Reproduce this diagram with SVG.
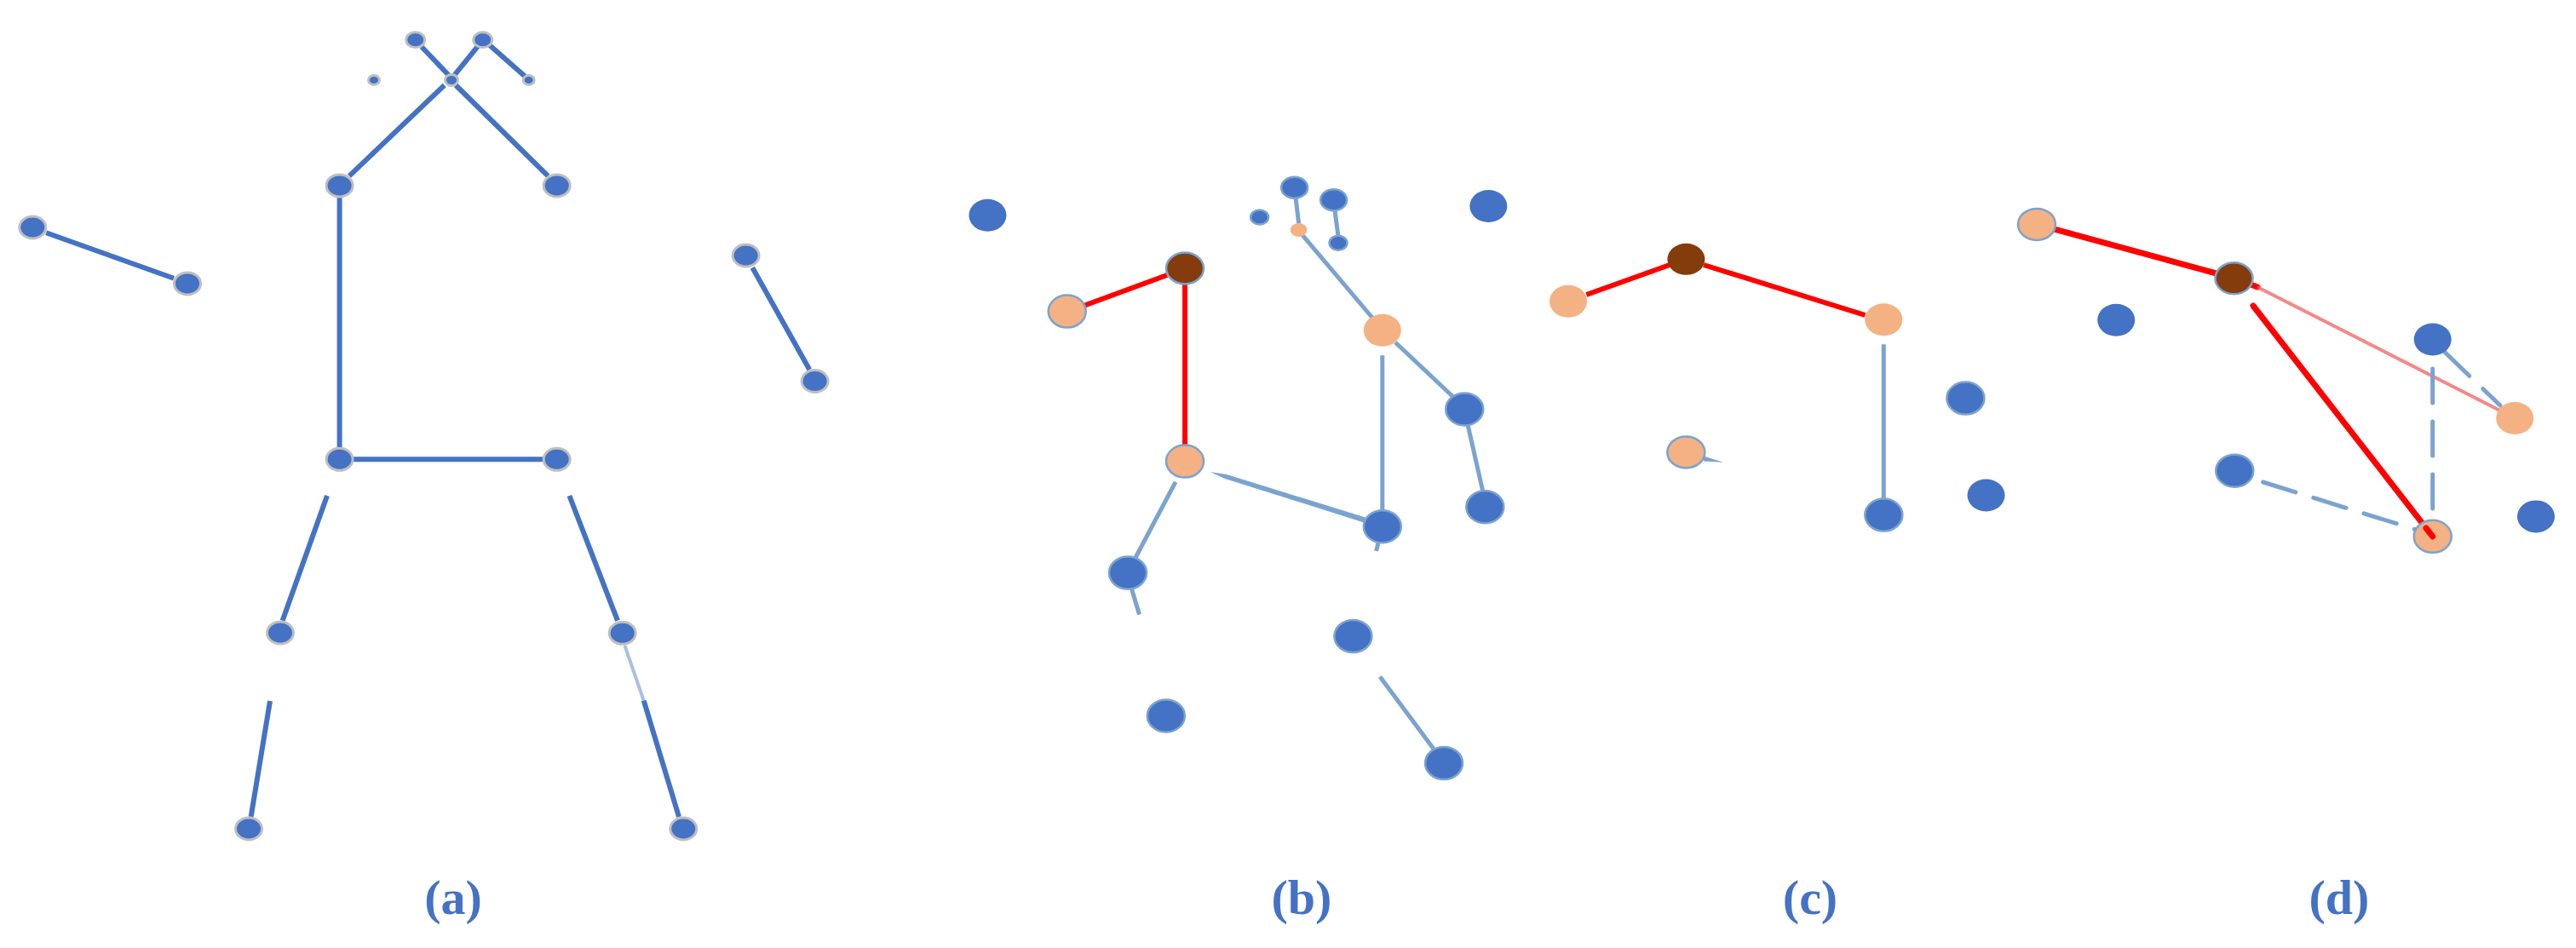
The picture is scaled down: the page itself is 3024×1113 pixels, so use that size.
<svg xmlns="http://www.w3.org/2000/svg" width="3024" height="1113" viewBox="0 0 3024 1113">
<style>
.bg{fill:#FFFFFF}
.na{fill:#4472C4;stroke:#BFBFBF;stroke-width:3}
.nb{fill:#4472C4;stroke:#7BA3CF;stroke-width:2.5}
.np{fill:#F4B183;stroke:#7BA3CF;stroke-width:2.5}
.nr{fill:#843C0C;stroke:#7BA3CF;stroke-width:2.5}
.la{stroke:#4472C4;stroke-width:6;fill:none}
.lf{stroke:#4472C4;stroke-width:4;fill:none;opacity:0.45}
.lb{stroke:#7BA3CF;stroke-width:5;fill:none}
.ld{stroke:#7BA3CF;stroke-width:5;fill:none;stroke-dasharray:40 22;stroke-linecap:round}
.lr{stroke:#FF0000;stroke-width:6;fill:none}
.lr2{stroke:#FF0000;stroke-width:7;fill:none;stroke-linecap:round}
.lrf{stroke:#F06060;stroke-width:4;fill:none;opacity:0.75}
.lbl{font-family:"Liberation Serif","Times New Roman",serif;font-weight:bold;font-size:58px;fill:#4472C4;text-anchor:middle}
</style>
<rect class="bg" x="0" y="0" width="3024" height="1113"/>
<g id="connectors">
  <!-- panel a -->
  <line class="la" x1="495" y1="55" x2="526.7" y2="88.3"/>
  <line class="la" x1="561.7" y1="53.3" x2="533.3" y2="88.3"/>
  <line class="la" x1="575" y1="53.3" x2="616.7" y2="90"/>
  <line class="la" x1="521.7" y1="100" x2="410" y2="206.7"/>
  <line class="la" x1="535" y1="100" x2="643.3" y2="206.7"/>
  <line class="la" x1="398.6" y1="232" x2="398.6" y2="525"/>
  <line class="la" x1="412" y1="539.3" x2="640" y2="539.3"/>
  <line class="la" x1="54.2" y1="273.2" x2="204" y2="326.8"/>
  <line class="la" x1="883.3" y1="314.3" x2="950.3" y2="434"/>
  <line class="la" x1="384" y1="582" x2="331.6" y2="728.7"/>
  <line class="la" x1="317" y1="823" x2="294.6" y2="959"/>
  <line class="la" x1="668.4" y1="582" x2="725" y2="728.7"/>
  <line class="lf" x1="733.4" y1="758" x2="755.7" y2="822.5"/>
  <line class="la" x1="755.7" y1="822.5" x2="797" y2="959"/>
  <!-- panel b -->
  <line class="lr" x1="1370" y1="323" x2="1272" y2="359"/>
  <line class="lr" x1="1391" y1="333" x2="1391" y2="523"/>
  <line class="lb" x1="1521" y1="231.7" x2="1524.6" y2="262.3"/>
  <line class="lb" x1="1567" y1="247" x2="1571" y2="277.6"/>
  <line class="lb" x1="1528.6" y1="275.7" x2="1611" y2="373"/>
  <line class="lb" x1="1638" y1="402" x2="1707" y2="467"/>
  <line class="lb" x1="1722.8" y1="497.6" x2="1741" y2="578"/>
  <line class="lb" x1="1622.8" y1="417.3" x2="1622.8" y2="601"/>
  <polygon fill="#7BA3CF" points="1420.5,554 1440,557 1602.9,607.6 1601.1,613.4 1438,562"/>
  <line class="lb" x1="1618" y1="637" x2="1615.6" y2="647"/>
  <line class="lb" x1="1380" y1="565.8" x2="1332" y2="656.5"/>
  <line class="lb" x1="1327.7" y1="689" x2="1337.5" y2="721.5"/>
  <line class="lb" x1="1620" y1="794.6" x2="1685.7" y2="883"/>
  <!-- panel c -->
  <line class="lr" x1="1862.3" y1="346" x2="1960" y2="311"/>
  <line class="lr" x1="2000" y1="311" x2="2189.5" y2="370"/>
  <line class="lb" x1="2211.3" y1="404.3" x2="2211.3" y2="586.4"/>
  <polygon fill="#7BA3CF" points="2000,535.5 2023,542.7 2000,541.5"/>
  <!-- panel d -->
  <polyline class="lr2" points="2390.9,263.4 2623.3,326.8 2650,337"/>
  <line class="lrf" x1="2650" y1="337" x2="2954.4" y2="492"/>
  <line class="lr2" x1="2645" y1="359" x2="2855.7" y2="629.8"/>
  <line class="ld" x1="2870" y1="413.5" x2="2935" y2="476"/>
  <line class="ld" x1="2855.7" y1="433" x2="2855.7" y2="604"/>
  <line class="ld" x1="2656.6" y1="566" x2="2836.6" y2="622"/>
</g>
<g id="nodes-a">
  <ellipse class="na" cx="487.7" cy="46.7" rx="11" ry="9"/>
  <ellipse class="na" cx="566.7" cy="46.7" rx="11" ry="9"/>
  <ellipse class="na" cx="439" cy="94" rx="6.5" ry="5.5"/>
  <ellipse class="na" cx="530" cy="94" rx="7.5" ry="6.5"/>
  <ellipse class="na" cx="620.7" cy="94" rx="6.5" ry="5.5"/>
  <ellipse class="na" cx="398.6" cy="217.9" rx="15.5" ry="13"/>
  <ellipse class="na" cx="653.7" cy="217.9" rx="15.5" ry="13"/>
  <ellipse class="na" cx="38.3" cy="267" rx="15.5" ry="13"/>
  <ellipse class="na" cx="220" cy="332.9" rx="15.5" ry="13"/>
  <ellipse class="na" cx="875.6" cy="300" rx="15.5" ry="13"/>
  <ellipse class="na" cx="956.6" cy="447.5" rx="15.5" ry="13"/>
  <ellipse class="na" cx="398.6" cy="539.3" rx="15.5" ry="13"/>
  <ellipse class="na" cx="653.7" cy="539.3" rx="15.5" ry="13"/>
  <ellipse class="na" cx="329" cy="743" rx="15.5" ry="13"/>
  <ellipse class="na" cx="730.7" cy="743.3" rx="15.5" ry="13"/>
  <ellipse class="na" cx="292" cy="973" rx="15.5" ry="13"/>
  <ellipse class="na" cx="802.3" cy="973" rx="15.5" ry="13"/>
</g>
<g id="nodes-b">
  <ellipse class="nb" cx="1159.4" cy="252.7" rx="22" ry="19" style="stroke:none"/>
  <ellipse class="nb" cx="1747.3" cy="242" rx="22" ry="19" style="stroke:none"/>
  <ellipse class="nb" cx="1478.6" cy="255" rx="10.5" ry="8.5"/>
  <ellipse class="nb" cx="1519.6" cy="220.2" rx="15.5" ry="12.5"/>
  <ellipse class="nb" cx="1565.6" cy="234.7" rx="15.5" ry="12.5"/>
  <ellipse class="np" cx="1524.6" cy="270" rx="9.8" ry="8" style="stroke:none"/>
  <ellipse class="nb" cx="1571" cy="285.2" rx="10.5" ry="8.5"/>
  <ellipse class="nr" cx="1391" cy="315" rx="22" ry="18.5"/>
  <ellipse class="np" cx="1252.7" cy="365.6" rx="22" ry="19"/>
  <ellipse class="np" cx="1622.8" cy="387.8" rx="22" ry="19" style="stroke:none"/>
  <ellipse class="np" cx="1391" cy="541.6" rx="22" ry="19"/>
  <ellipse class="nb" cx="1719.2" cy="480.4" rx="22" ry="19"/>
  <ellipse class="nb" cx="1743.3" cy="595.2" rx="22" ry="19"/>
  <ellipse class="nb" cx="1622.8" cy="618.2" rx="22" ry="19"/>
  <ellipse class="nb" cx="1324" cy="672.5" rx="22" ry="19"/>
  <ellipse class="nb" cx="1588.4" cy="747" rx="22" ry="19"/>
  <ellipse class="nb" cx="1368.8" cy="840.4" rx="22" ry="19"/>
  <ellipse class="nb" cx="1695" cy="896" rx="22" ry="19"/>
</g>
<g id="nodes-c">
  <ellipse class="np" cx="1841" cy="353.8" rx="22" ry="19" style="stroke:none"/>
  <ellipse class="nr" cx="1979.4" cy="304.3" rx="22" ry="18.5" style="stroke:none"/>
  <ellipse class="np" cx="2211.3" cy="375.2" rx="22" ry="19" style="stroke:none"/>
  <ellipse class="np" cx="1979.3" cy="531" rx="22" ry="18.5"/>
  <ellipse class="nb" cx="2211.3" cy="604.6" rx="22" ry="19"/>
  <ellipse class="nb" cx="2307.4" cy="467.6" rx="22" ry="19"/>
  <ellipse class="nb" cx="2331.5" cy="581.5" rx="22" ry="19" style="stroke:none"/>
</g>
<g id="nodes-d">
  <ellipse class="np" cx="2391" cy="263.4" rx="22" ry="18.5"/>
  <ellipse class="nr" cx="2622.5" cy="326.8" rx="22" ry="18.5"/>
  <ellipse class="nb" cx="2484.2" cy="375.8" rx="22" ry="19" style="stroke:none"/>
  <ellipse class="nb" cx="2855.7" cy="398.5" rx="22" ry="19" style="stroke:none"/>
  <ellipse class="np" cx="2952.2" cy="491" rx="22" ry="19" style="stroke:none"/>
  <ellipse class="nb" cx="2623.3" cy="552.7" rx="22" ry="19"/>
  <ellipse class="np" cx="2855.7" cy="629.8" rx="22" ry="19"/>
  <ellipse class="nb" cx="2977" cy="606.4" rx="22" ry="19" style="stroke:none"/>
  <line class="lr2" x1="2848" y1="620" x2="2855.7" y2="629.8"/>
</g>
<g id="labels">
  <text class="lbl" x="532" y="1073">(a)</text>
  <text class="lbl" x="1528" y="1073">(b)</text>
  <text class="lbl" x="2125" y="1073">(c)</text>
  <text class="lbl" x="2746" y="1073">(d)</text>
</g>
</svg>
